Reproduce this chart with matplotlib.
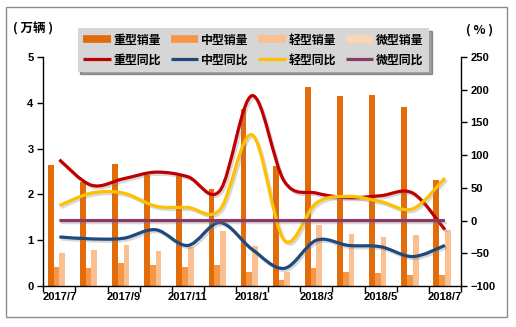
import matplotlib
matplotlib.use("Agg")
import matplotlib.pyplot as plt
import numpy as np
from matplotlib.path import Path
from matplotlib.patches import PathPatch, Rectangle
from matplotlib.lines import Line2D
import matplotlib.patheffects as pe

plt.rcParams['font.family'] = ['Liberation Sans', 'Noto Sans CJK SC', 'DejaVu Sans']

# Monthly truck sales (10k units) and year-on-year growth (%)
months = ['2017/7', '2017/8', '2017/9', '2017/10', '2017/11', '2017/12', '2018/1',
          '2018/2', '2018/3', '2018/4', '2018/5', '2018/6', '2018/7']
heavy_sales = [2.65, 2.28, 2.67, 2.43, 2.41, 2.12, 3.87, 2.61, 4.35, 4.14, 4.17, 3.90, 2.32]
medium_sales = [0.42, 0.40, 0.51, 0.46, 0.42, 0.46, 0.31, 0.13, 0.40, 0.31, 0.29, 0.24, 0.24]
light_sales = [0.72, 0.79, 0.90, 0.77, 0.85, 1.19, 0.88, 0.31, 1.33, 1.14, 1.06, 1.12, 1.22]
micro_sales = [0.01, 0.01, 0.01, 0.01, 0.01, 0.01, 0.01, 0.01, 0.01, 0.01, 0.01, 0.01, 0.01]

heavy_yoy = [93, 54, 64, 74, 67, 46, 191, 60, 42, 35, 38, 42, -14]
medium_yoy = [-25, -28, -27, -14, -38, -3, -44, -73, -30, -38, -40, -55, -38]
light_yoy = [23, 42, 42, 22, 20, 17, 131, -30, 27, 37, 29, 18, 65]
micro_yoy = [0, 0, 0, 0, 0, 0, 0, 0, 0, 0, 0, 0, 0]

bar_names = ['重型销量', '中型销量', '轻型销量', '微型销量']
line_names = ['重型同比', '中型同比', '轻型同比', '微型同比']
bar_colors = ['#E36C0A', '#F79646', '#FAC090', '#FCD5B5']
line_colors = ['#C00000', '#1F497D', '#FFC000', '#8B3A67']


def smooth_path(xs, ys):
    """Cubic Bezier path through the points, Excel-style smoothing."""
    pts = np.column_stack([xs, ys]).astype(float)
    n = len(pts)
    verts = [pts[0]]
    codes = [Path.MOVETO]
    for i in range(n - 1):
        p0 = pts[i - 1] if i > 0 else pts[i]
        p1 = pts[i]
        p2 = pts[i + 1]
        p3 = pts[i + 2] if i + 2 < n else pts[i + 1]
        c1 = p1 + (p2 - p0) / 6.0
        c2 = p2 - (p3 - p1) / 6.0
        verts += [c1, c2, p2]
        codes += [Path.CURVE4] * 3
    return Path(verts, codes)


W, H = 516, 327
fig = plt.figure(figsize=(W / 100, H / 100), dpi=100)

# outer frame
fig.patches.append(Rectangle((5.5 / W, 1 - 317 / H), 501 / W, 310 / H,
                             transform=fig.transFigure, fill=False,
                             edgecolor='#8C8C8C', linewidth=1.0))

ax = fig.add_axes([43.3 / W, 1 - 286 / H, (461 - 43.3) / W, (286 - 57) / H])
ax2 = ax.twinx()

x = np.arange(len(months))
width = 0.178
offsets = [-0.267, -0.089, 0.089, 0.267]
for vals, off, col in zip([heavy_sales, medium_sales, light_sales, micro_sales],
                          offsets, bar_colors):
    ax.bar(x + off, vals, width=width, color=col, linewidth=0, zorder=2)

ax.set_xlim(-0.5, len(months) - 0.5)
ax.set_ylim(0, 5)
ax.set_yticks(range(0, 6))
ax.set_xticks(x[::2])
ax.set_xticklabels(months[::2])
ax.set_xticks(np.arange(-0.5, len(months)), minor=True)
ax.tick_params(axis='x', which='major', length=0, pad=4)
ax.tick_params(axis='x', which='minor', length=4, direction='out', width=1)
ax.tick_params(axis='y', length=4, direction='out', width=1, pad=3)

ax2.set_ylim(-100, 250)
ax2.set_yticks(range(-100, 251, 50))
ax2.tick_params(axis='y', length=4, direction='out', width=1, pad=3)

for a in (ax, ax2):
    a.spines['top'].set_visible(False)
    for s in ('left', 'right', 'bottom'):
        a.spines[s].set_color('black')
        a.spines[s].set_linewidth(1.0)
    for lab in a.get_xticklabels() + a.get_yticklabels():
        lab.set_fontweight('bold')
        lab.set_fontsize(8)
ax.spines['right'].set_visible(False)
ax2.spines['left'].set_visible(False)
ax2.spines['bottom'].set_visible(False)

shadow = [pe.SimpleLineShadow(offset=(1.2, -1.5), shadow_color='#808080', alpha=0.3),
          pe.Normal()]
for vals, col in zip([heavy_yoy, medium_yoy, light_yoy, micro_yoy], line_colors):
    patch = PathPatch(smooth_path(x, vals), facecolor='none', edgecolor=col,
                      linewidth=2.3, capstyle='butt', zorder=3)
    patch.set_path_effects(shadow)
    ax2.add_patch(patch)

# unit labels
cjk = ['Noto Sans CJK SC', 'DejaVu Sans']
fig.text(33 / W, 1 - 29 / H, '( 万辆 )', ha='center', va='center',
         fontsize=9, fontweight='bold', family=cjk)
fig.text(480 / W, 1 - 30 / H, '( % )', ha='center', va='center',
         fontsize=9, fontweight='bold', family=cjk)

# legend
handles, labels = [], []
for i in range(4):
    handles.append(Line2D([], [], color=bar_colors[i], linewidth=5.5, solid_capstyle='butt'))
    labels.append(bar_names[i])
    handles.append(Line2D([], [], color=line_colors[i], linewidth=2.3, solid_capstyle='butt'))
    labels.append(line_names[i])
leg = fig.legend(handles, labels, ncol=4, loc='upper left',
                 bbox_to_anchor=(77.7 / W, 1 - 28.3 / H), bbox_transform=fig.transFigure,
                 borderaxespad=0, frameon=True, fancybox=False, shadow=True,
                 handlelength=2.3, handletextpad=0.25, columnspacing=0.8,
                 labelspacing=0.55, borderpad=0.45,
                 prop={'family': cjk, 'weight': 'bold', 'size': 8.6})
leg.get_frame().set_facecolor('#D6D6D6')
leg.get_frame().set_edgecolor('none')

fig.savefig('out.png', dpi=100)
